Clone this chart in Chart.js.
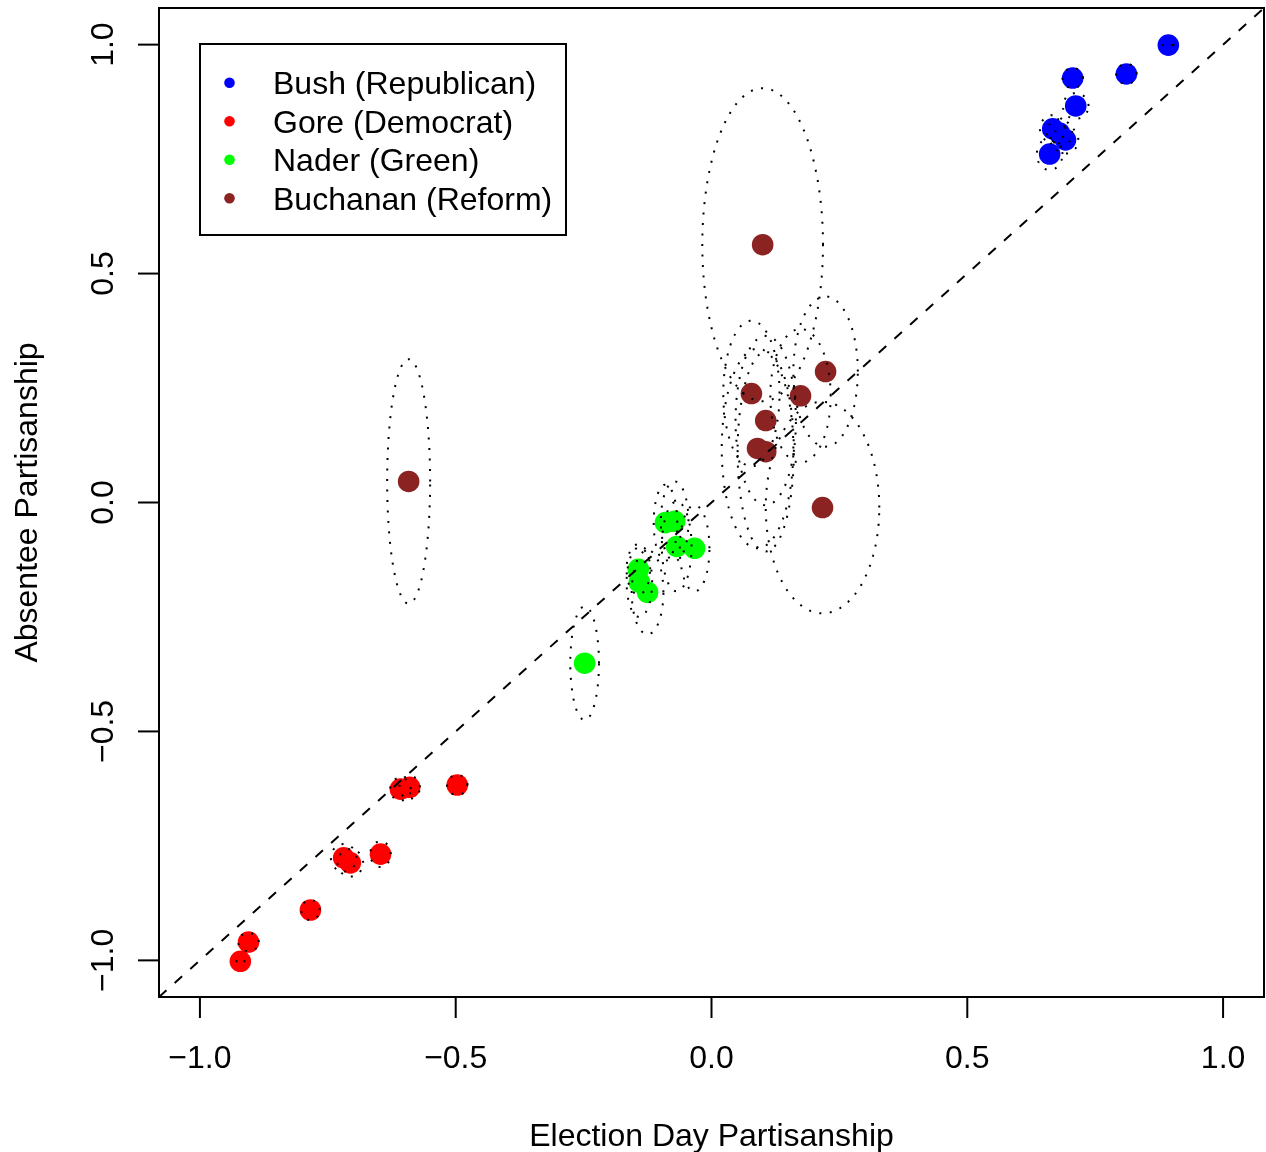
<!DOCTYPE html>
<html>
<head>
<meta charset="utf-8">
<title>Election Day vs Absentee Partisanship</title>
<script src="https://cdn.jsdelivr.net/npm/chart.js@4.4.1/dist/chart.umd.min.js"></script>
<style>
  html, body { margin: 0; padding: 0; background: #fff; }
  #wrap { width: 1266px; height: 1152px; }
</style>
</head>
<body>
<div id="wrap"><canvas id="chart" width="1266" height="1152"></canvas></div>
<script>
/* ── Partisanship scatter with dotted uncertainty ellipses ── */

// ── Data ────────────────────────────────────────────────────────────────────
const xLimits = [-1.08, 1.08];
const yLimits = [-1.08, 1.08];
const xTicks = [-1.0, -0.5, 0.0, 0.5, 1.0];
const yTicks = [-1.0, -0.5, 0.0, 0.5, 1.0];

const partyNames = ["Bush (Republican)", "Gore (Democrat)", "Nader (Green)", "Buchanan (Reform)"];
const partyColors = ["#0000FF", "#FF0000", "#00FF00", "#8B2323"];

// election day (x) / absentee (y) partisanship
const bushX = [0.893, 0.811, 0.706, 0.712, 0.667, 0.680, 0.692, 0.661];
const bushY = [0.999, 0.936, 0.927, 0.866, 0.816, 0.807, 0.792, 0.761];
const goreX = [-0.921, -0.905, -0.784, -0.719, -0.706, -0.647, -0.608, -0.590, -0.497];
const goreY = [-1.002, -0.960, -0.890, -0.776, -0.787, -0.768, -0.626, -0.622, -0.617];
const naderX = [-0.248, -0.143, -0.141, -0.125, -0.090, -0.072, -0.068, -0.033];
const naderY = [-0.351, -0.146, -0.174, -0.196, -0.044, -0.041, -0.096, -0.100];
const buchananX = [-0.592, 0.100, 0.223, 0.078, 0.174, 0.106, 0.090, 0.106, 0.217];
const buchananY = [0.046, 0.563, 0.286, 0.238, 0.233, 0.179, 0.118, 0.111, -0.011];

// ellipse half-widths (x) and half-heights (y), data units
const bushRadX = [0.012, 0.020, 0.020, 0.025, 0.025, 0.025, 0.025, 0.025];
const bushRadY = [0.000, 0.022, 0.022, 0.028, 0.030, 0.030, 0.030, 0.035];
const goreRadX = [0.010, 0.020, 0.018, 0.025, 0.025, 0.020, 0.020, 0.020, 0.020];
const goreRadY = [0.000, 0.020, 0.022, 0.030, 0.030, 0.028, 0.025, 0.025, 0.022];
const naderRadX = [0.028, 0.023, 0.025, 0.031, 0.023, 0.027, 0.029, 0.029];
const naderRadY = [0.124, 0.055, 0.076, 0.092, 0.083, 0.087, 0.098, 0.094];
const buchananRadX = [0.042, 0.118, 0.063, 0.055, 0.059, 0.059, 0.070, 0.055, 0.111];
const buchananRadY = [0.267, 0.342, 0.164, 0.159, 0.146, 0.185, 0.218, 0.218, 0.231];

// ── Helpers ─────────────────────────────────────────────────────────────────
const FONT = "'Liberation Sans', Arial, Helvetica, sans-serif";
const FONT_SIZE = 32;

function toPoints(xs, ys) {
  return xs.map((v, i) => ({ x: v, y: ys[i] }));
}

function fmtTick(v) {
  return Number(v).toFixed(1).replace("-", "\u2212");
}

const groups = [
  { x: bushX, y: bushY, rx: bushRadX, ry: bushRadY },
  { x: goreX, y: goreY, rx: goreRadX, ry: goreRadY },
  { x: naderX, y: naderY, rx: naderRadX, ry: naderRadY },
  { x: buchananX, y: buchananY, rx: buchananRadX, ry: buchananRadY },
];

// ── Overlay: ellipses, box, axes, legend ────────────────────────────────────
const overlay = {
  id: "overlay",
  afterDatasetsDraw(chart) {
    const { ctx, chartArea: a, scales: { x, y } } = chart;
    ctx.save();
    ctx.beginPath();
    ctx.rect(a.left, a.top, a.right - a.left, a.bottom - a.top);
    ctx.clip();
    ctx.strokeStyle = "#000";
    ctx.lineWidth = 2;
    ctx.lineCap = "butt";
    ctx.setLineDash([2, 8.5]);
    groups.forEach((g) => {
      g.x.forEach((cx, i) => {
        const cy = g.y[i];
        ctx.beginPath();
        for (let k = 0; k <= 120; k++) {
          const t = (k / 120) * 2 * Math.PI;
          const px = x.getPixelForValue(cx + g.rx[i] * Math.cos(t));
          const py = y.getPixelForValue(cy + g.ry[i] * Math.sin(t));
          if (k === 0) ctx.moveTo(px, py); else ctx.lineTo(px, py);
        }
        ctx.stroke();
      });
    });
    ctx.restore();
  },
  afterDraw(chart) {
    const { ctx, chartArea: a, scales: { x, y } } = chart;
    ctx.save();
    ctx.strokeStyle = "#000";
    ctx.fillStyle = "#000";
    ctx.lineWidth = 2;
    ctx.setLineDash([]);

    // plot box
    ctx.strokeRect(a.left, a.top, a.right - a.left, a.bottom - a.top);

    ctx.font = `${FONT_SIZE}px ${FONT}`;
    ctx.textAlign = "center";
    ctx.textBaseline = "alphabetic";

    // x axis: ticks, labels, title
    xTicks.forEach((v) => {
      const px = x.getPixelForValue(v);
      ctx.beginPath();
      ctx.moveTo(px, a.bottom);
      ctx.lineTo(px, a.bottom + 21);
      ctx.stroke();
      ctx.fillText(fmtTick(v), px, a.bottom + 70.5);
    });
    ctx.fillText("Election Day Partisanship", (a.left + a.right) / 2, a.bottom + 148.5);

    // y axis: ticks, rotated labels, title
    yTicks.forEach((v) => {
      const py = y.getPixelForValue(v);
      ctx.beginPath();
      ctx.moveTo(a.left - 21, py);
      ctx.lineTo(a.left, py);
      ctx.stroke();
      ctx.save();
      ctx.translate(a.left - 46, py);
      ctx.rotate(-Math.PI / 2);
      ctx.fillText(fmtTick(v), 0, 0);
      ctx.restore();
    });
    ctx.save();
    ctx.translate(a.left - 122, (a.top + a.bottom) / 2);
    ctx.rotate(-Math.PI / 2);
    ctx.fillText("Absentee Partisanship", 0, 0);
    ctx.restore();

    // legend
    const lx = 200, ly = 44, lw = 366, lh = 191;
    ctx.fillStyle = "#fff";
    ctx.fillRect(lx, ly, lw, lh);
    ctx.strokeRect(lx, ly, lw, lh);
    ctx.textAlign = "left";
    partyNames.forEach((name, i) => {
      const base = 94 + i * 38.5;
      ctx.fillStyle = partyColors[i];
      ctx.beginPath();
      ctx.arc(229.5, base - 11.3, 5.3, 0, 2 * Math.PI);
      ctx.fill();
      ctx.fillStyle = "#000";
      ctx.fillText(name, 273, base);
    });
    ctx.restore();
  },
};

// ── Chart ───────────────────────────────────────────────────────────────────
const ctx = document.getElementById("chart").getContext("2d");

const pointSets = groups.map((g, i) => ({
  label: partyNames[i],
  data: toPoints(g.x, g.y),
  backgroundColor: partyColors[i],
  borderWidth: 0,
  pointRadius: 10.8,
  pointHoverRadius: 10.8,
  order: 2,
}));

new Chart(ctx, {
  type: "scatter",
  data: {
    datasets: [
      ...pointSets,
      {
        label: "y = x",
        data: [{ x: xLimits[0], y: yLimits[0] }, { x: xLimits[1], y: yLimits[1] }],
        showLine: true,
        borderColor: "#000",
        borderWidth: 2,
        borderDash: [10, 11],
        pointRadius: 0,
        fill: false,
        order: 1,
      },
    ],
  },
  options: {
    responsive: false,
    animation: false,
    layout: { autoPadding: false, padding: { top: 8, right: 2, left: 159, bottom: 155 } },
    plugins: {
      legend: { display: false },
      tooltip: { enabled: false },
    },
    scales: {
      x: { type: "linear", display: false, min: xLimits[0], max: xLimits[1] },
      y: { type: "linear", display: false, min: yLimits[0], max: yLimits[1] },
    },
  },
  plugins: [overlay],
});
</script>
</body>
</html>
